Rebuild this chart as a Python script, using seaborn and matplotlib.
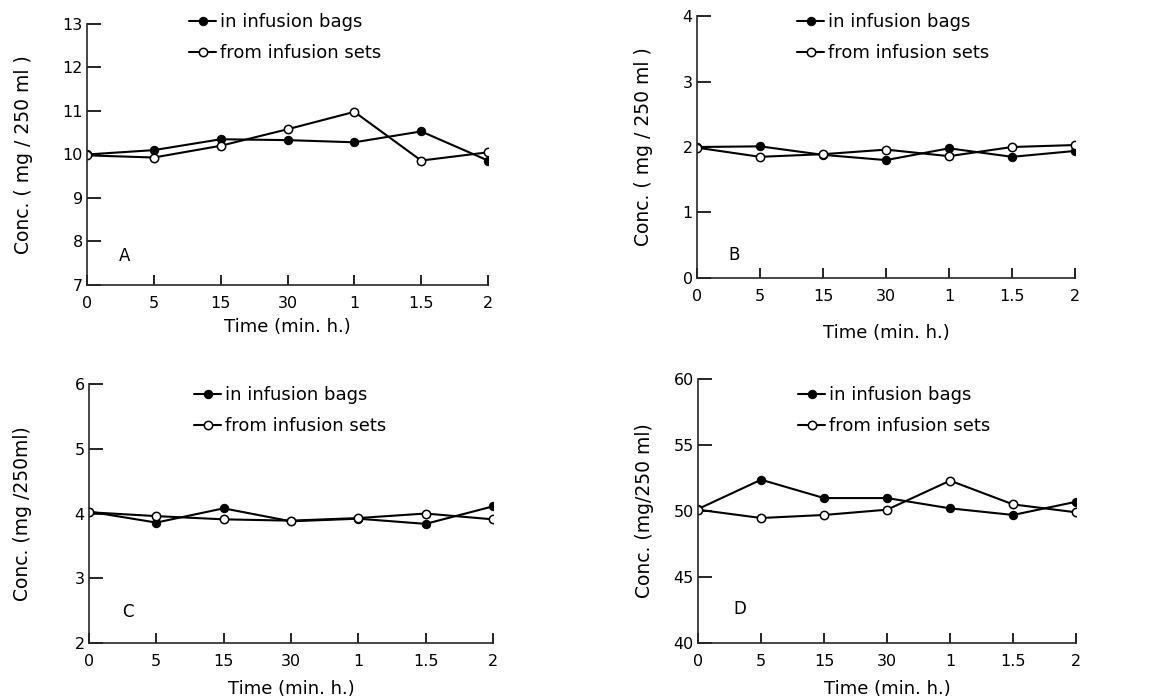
import matplotlib
matplotlib.use("Agg")
import matplotlib.pyplot as plt
import pandas as pd
import seaborn as sns

sns.set_style("ticks")
plt.rcParams['font.family'] = ['DejaVu Sans']
plt.rcParams['text.color'] = 'black'
plt.rcParams['axes.labelcolor'] = 'black'
plt.rcParams['xtick.color'] = 'black'
plt.rcParams['ytick.color'] = 'black'

# Data
times = ["0", "5", "15", "30", "1", "1.5", "2"]

bags_a = [10.0, 10.1, 10.35, 10.33, 10.28, 10.53, 9.86]
sets_a = [9.98, 9.93, 10.2, 10.58, 10.98, 9.86, 10.05]

bags_b = [2.0, 2.01, 1.88, 1.80, 1.98, 1.85, 1.94]
sets_b = [1.99, 1.85, 1.89, 1.96, 1.86, 2.0, 2.03]

bags_c = [4.03, 3.86, 4.08, 3.88, 3.92, 3.84, 4.11]
sets_c = [4.02, 3.96, 3.91, 3.89, 3.93, 4.0, 3.91]

bags_d = [50.15, 52.37, 50.98, 50.98, 50.2, 49.7, 50.7]
sets_d = [50.1, 49.47, 49.7, 50.1, 52.3, 50.5, 49.9]

panels = [
    # letter, bags, sets, ylim, yticks, axes rect, ylabel, ylabelpad, xlabelpad, legend anchor, letter pos
    ("A", bags_a, sets_a, (7, 13), [7, 8, 9, 10, 11, 12, 13],
     [0.0754, 0.5923, 0.3475, 0.3734], "Conc. ( mg / 250 ml )", 21, 5, (0.255, 1.042), (0.08, 0.09)),
    ("B", bags_b, sets_b, (0, 4), [0, 1, 2, 3, 4],
     [0.604, 0.6023, 0.3276, 0.3748], "Conc. ( mg / 250 ml )", 21, 14, (0.265, 1.011), (0.082, 0.07)),
    ("C", bags_c, sets_c, (2, 6), [2, 3, 4, 5, 6],
     [0.0771, 0.0801, 0.350, 0.3705], "Conc. (mg /250ml)", 31, 8, (0.26, 0.992), (0.082, 0.10)),
    ("D", bags_d, sets_d, (40, 60), [40, 45, 50, 55, 60],
     [0.6049, 0.0801, 0.3276, 0.3777], "Conc. (mg/250 ml)", 14, 8, (0.265, 0.974), (0.093, 0.11)),
]

fig = plt.figure(figsize=(11.54, 6.99), dpi=100)

for letter, bags, sets, ylim, yticks, rect, ylabel, ypad, xpad, leg_pos, let_pos in panels:
    ax = fig.add_axes(rect)
    df = pd.DataFrame({"pos": range(len(times)), "bags": bags, "sets": sets})

    sns.lineplot(data=df, x="pos", y="bags", ax=ax, color="black", linewidth=1.5,
                 marker="o", markersize=6, markerfacecolor="black",
                 markeredgecolor="black", label="in infusion bags")
    sns.lineplot(data=df, x="pos", y="sets", ax=ax, color="black", linewidth=1.5,
                 marker="o", markersize=6, markerfacecolor="white",
                 markeredgecolor="black", markeredgewidth=1.1, label="from infusion sets")

    ax.set_xlim(0, len(times) - 1)
    ax.set_ylim(*ylim)
    ax.set_xticks(range(len(times)))
    ax.set_xticklabels(times)
    ax.set_yticks(yticks)
    ax.tick_params(axis="both", direction="in", width=1.2, labelsize=11.5)
    ax.tick_params(axis="x", length=7, pad=8)
    ax.tick_params(axis="y", length=10, pad=3)
    sns.despine(ax=ax)
    for s in ["left", "bottom"]:
        ax.spines[s].set_linewidth(1.2)
    ax.spines["right"].set_visible(True)
    ax.spines["right"].set_bounds(ylim[0], ylim[0] + (ylim[1] - ylim[0]) * 0.03)
    ax.spines["right"].set_linewidth(1.2)

    ax.set_xlabel("Time (min. h.)", fontsize=13, labelpad=xpad)
    ax.set_ylabel(ylabel, fontsize=13.5, labelpad=ypad)
    ax.text(let_pos[0], let_pos[1], letter, transform=ax.transAxes, fontsize=12)

    ax.legend(loc="upper left", bbox_to_anchor=leg_pos, frameon=False, fontsize=13,
              handlelength=1.5, handletextpad=0.2, labelspacing=0.72, borderpad=0,
              borderaxespad=0)

fig.savefig("out.png", dpi=100)
